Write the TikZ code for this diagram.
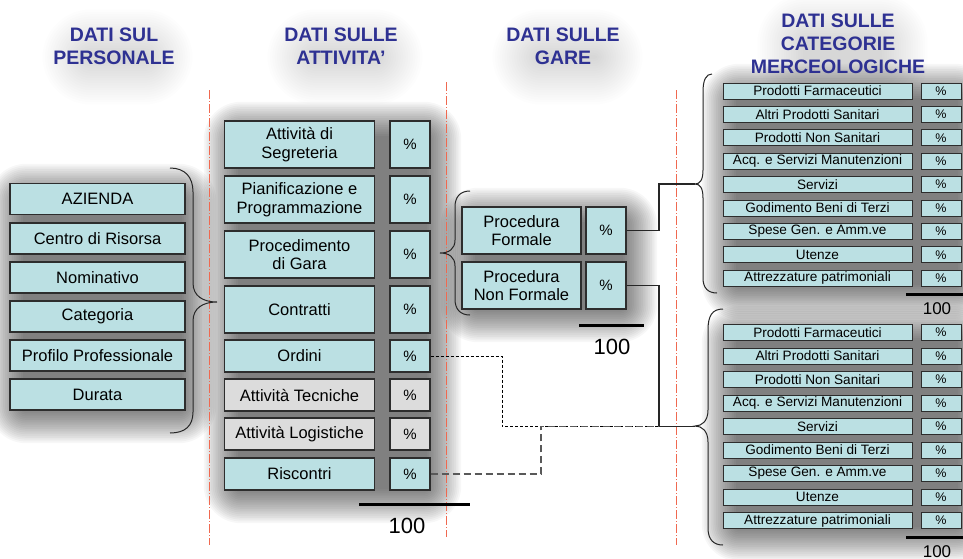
\documentclass[tikz,border=0pt]{standalone}
\usepackage{fontspec}
\setmainfont{Liberation Sans}
\definecolor{cyanfill}{RGB}{187,224,227}
\definecolor{grayfill}{RGB}{220,220,220}
\definecolor{boxline}{RGB}{45,45,45}
\definecolor{headblue}{RGB}{46,49,146}
\definecolor{redline}{RGB}{240,105,80}
\newcommand\softshade[6]{% x1 y1 x2 y2 opacity-per-step spread
  \foreach \k in {0,...,19}{
    \pgfmathsetmacro\ee{\k*#6-8}
    \pgfmathsetmacro\rr{\k*#6+3}
    \fill[black, opacity=#5, rounded corners=\rr pt] ({#1-\ee+5},{#2-\ee+7}) rectangle ({#3+\ee+5},{#4+\ee+7});
  }}
\tikzset{
  bx/.style={draw=boxline, line width=1.1pt, fill=cyanfill, inner sep=0pt, align=center,
    font=\fontsize{16.5}{18.5}\selectfont},
  graybx/.style={fill=grayfill},
  pbox/.style={bx, minimum width=175pt, minimum height=31pt},
  abox/.style={bx, minimum width=150pt},
  apct/.style={bx, minimum width=40pt, font=\fontsize{15}{18}\selectfont},
  gbox/.style={bx, minimum width=119pt, minimum height=47pt},
  gpct/.style={bx, minimum width=40pt, minimum height=47pt, font=\fontsize{15}{18}\selectfont},
  cbox/.style={bx, line width=1pt, minimum width=189pt, minimum height=16pt, font=\fontsize{13.6}{15}\selectfont},
  cpct/.style={cbox, minimum width=40pt, font=\fontsize{12.5}{15}\selectfont},
  head/.style={align=center, inner sep=0pt, text=headblue, font=\fontsize{19.5}{23.3}\selectfont\bfseries},
  redln/.style={draw=redline, line width=1pt, dash pattern=on 9pt off 2pt on 1pt off 2pt},
  brc/.style={draw=black!85, line width=1pt},
  conn/.style={draw=black!85, line width=1.1pt},
  sumln/.style={draw=black, line width=3pt},
  hundred/.style={inner sep=0pt, font=\fontsize{22}{24}\selectfont},
  chundred/.style={inner sep=0pt, font=\fontsize{17}{20}\selectfont},
}
\begin{document}
\begin{tikzpicture}[x=1pt, y=-1pt]
\useasboundingbox (0,0) rectangle (963,558);
\fill[white] (0,0) rectangle (963,558);

% soft shadows behind headings and groups
\softshade{75}{40}{150}{60}{0.009}{2.4}
\softshade{300}{40}{380}{60}{0.009}{2.4}
\softshade{525}{40}{600}{60}{0.009}{2.4}
\softshade{790}{25}{885}{65}{0.009}{2.4}
\softshade{10}{183}{185}{410}{0.033}{1.8}
\softshade{225}{121}{430}{490}{0.033}{1.8}
\softshade{462}{207}{626}{309}{0.033}{1.8}
\softshade{723}{83}{961}{286}{0.033}{1.8}
\softshade{723}{325}{961}{528}{0.033}{1.8}

% headings
\node[head] (h1) at (114,46.4) {DATI SUL\\PERSONALE};
\node[head] (h2) at (341,46.4) {DATI SULLE\\ATTIVITA'};
\node[head] (h3) at (563,46.4) {DATI SULLE\\GARE};
\node[head] (h4) at (838,43.8) {DATI SULLE\\CATEGORIE\\MERCEOLOGICHE};

% red dash-dot separators
\draw[redln] (209,90) -- (209,545);
\draw[redln] (446,82) -- (446,537);
\draw[redln] (676,90) -- (676,545);

% personale
\node[pbox] (p1) at (97.5,199) {AZIENDA};
\node[pbox] (p2) at (97.5,238.5) {Centro di Risorsa};
\node[pbox] (p3) at (97.5,277.5) {Nominativo};
\node[pbox] (p4) at (97.5,316.5) {Categoria};
\node[pbox] (p5) at (97.5,355.5) {Profilo Professionale};
\node[pbox] (p6) at (97.5,394.5) {Durata};
\draw[brc] (170,168) .. controls (185,168) and (193,177) .. (193,192) -- (193,283)
  .. controls (193,296) and (203,302) .. (217,302)
  .. controls (203,302) and (193,308) .. (193,321) -- (193,412)
  .. controls (193,426) and (185,433) .. (170,433);

% attivita
\node[abox, minimum height=47pt] (a1) at (299.5,144.5) {Attività di\\Segreteria};
\node[apct, minimum height=47pt] (q1) at (410,144.5) {\%};
\node[abox, minimum height=47pt] (a2) at (299.5,199.5) {Pianificazione e\\Programmazione};
\node[apct, minimum height=47pt] (q2) at (410,199.5) {\%};
\node[abox, minimum height=47pt] (a3) at (299.5,254.5) {Procedimento\\di Gara};
\node[apct, minimum height=47pt] (q3) at (410,254.5) {\%};
\node[abox, minimum height=47pt] (a4) at (299.5,309.5) {Contratti};
\node[apct, minimum height=47pt] (q4) at (410,309.5) {\%};
\node[abox, minimum height=32pt] (a5) at (299.5,356) {Ordini};
\node[apct, minimum height=32pt] (q5) at (410,356) {\%};
\node[abox, graybx, minimum height=32pt] (a6) at (299.5,395) {Attività Tecniche};
\node[apct, graybx, minimum height=32pt] (q6) at (410,395) {\%};
\node[abox, graybx, minimum height=32pt] (a7) at (299.5,434) {Attività Logistiche};
\node[apct, graybx, minimum height=32pt] (q7) at (410,434) {\%};
\node[abox, minimum height=32pt] (a8) at (299.5,474) {Riscontri};
\node[apct, minimum height=32pt] (q8) at (410,474) {\%};
\draw[sumln] (359,504) -- (470,504);
\node[hundred] (t1) at (407,526) {100};

% gare
\node[gbox] (g1) at (521.5,230.5) {Procedura\\Formale};
\node[gpct] (gq1) at (606,230.5) {\%};
\node[gbox] (g2) at (521.5,285.5) {Procedura\\Non Formale};
\node[gpct] (gq2) at (606,285.5) {\%};
\draw[brc] (470,191) .. controls (460,191) and (455,197) .. (455,207) -- (455,240)
  .. controls (455,249) and (449,253) .. (440,253)
  .. controls (449,253) and (455,257) .. (455,266) -- (455,299)
  .. controls (455,309) and (460,315) .. (470,315);
\draw[sumln] (579,325) -- (644,325);
\node[hundred] (t2) at (612,347) {100};

% categorie - top group
\foreach \y/\t [count=\i] in {91/Prodotti Farmaceutici, 114.4/Altri Prodotti Sanitari, 137.8/Prodotti Non Sanitari,
   161.2/Acq. e Servizi Manutenzioni, 184.6/Servizi, 208/Godimento Beni di Terzi, 231.4/Spese Gen. e Amm.ve,
   254.8/Utenze, 278.2/Attrezzature patrimoniali}{
  \node[cbox] (c\i) at (817.5,\y) {\t};
  \node[cpct] (cq\i) at (941,\y) {\%};
}
\draw[brc] (712,74) .. controls (706,74) and (703,80) .. (703,92) -- (703,170)
  .. controls (703,180) and (700,184) .. (695,184)
  .. controls (700,184) and (703,188) .. (703,198) -- (703,278)
  .. controls (703,288) and (708,293) .. (717,293);
\draw[sumln] (906,294) -- (963,294);
\node[chundred] (t3) at (937,309) {100};

% categorie - bottom group
\foreach \y/\t [count=\i] in {332.5/Prodotti Farmaceutici, 356/Altri Prodotti Sanitari, 379.5/Prodotti Non Sanitari,
   403/Acq. e Servizi Manutenzioni, 426.5/Servizi, 450/Godimento Beni di Terzi, 473.5/Spese Gen. e Amm.ve,
   497/Utenze, 520.5/Attrezzature patrimoniali}{
  \node[cbox] (d\i) at (817.5,\y) {\t};
  \node[cpct] (dq\i) at (941,\y) {\%};
}
\draw[brc] (723,309) .. controls (712,309) and (708,316) .. (708,330) -- (708,410)
  .. controls (708,421) and (702,426) .. (695,426)
  .. controls (702,426) and (708,431) .. (708,442) -- (708,528)
  .. controls (708,540) and (714,545) .. (723,545);
\draw[sumln] (906,537) -- (963,537);
\node[chundred] (t4) at (937,552) {100};

% connectors
\coordinate (ctop) at (695,184);
\coordinate (cbot) at (695,426.5);
\coordinate (j1) at (659,184);
\coordinate (j2) at (659,426.5);
\coordinate (k1) at (502,426.5);
\coordinate (k2) at (541,426.5);
\draw[conn] (gq1.east) -| (j1) -- (ctop);
\draw[conn] (gq2.east) -| (j2) -- (cbot);
\draw[draw=black, line width=0.8pt, dash pattern=on 3pt off 2pt] (q5.east) -| (k1) -- (j2);
\draw[draw=black!65, line width=1.3pt, dash pattern=on 7pt off 4pt] (q8.east) -| (k2) -- (j2);
\end{tikzpicture}
\end{document}
